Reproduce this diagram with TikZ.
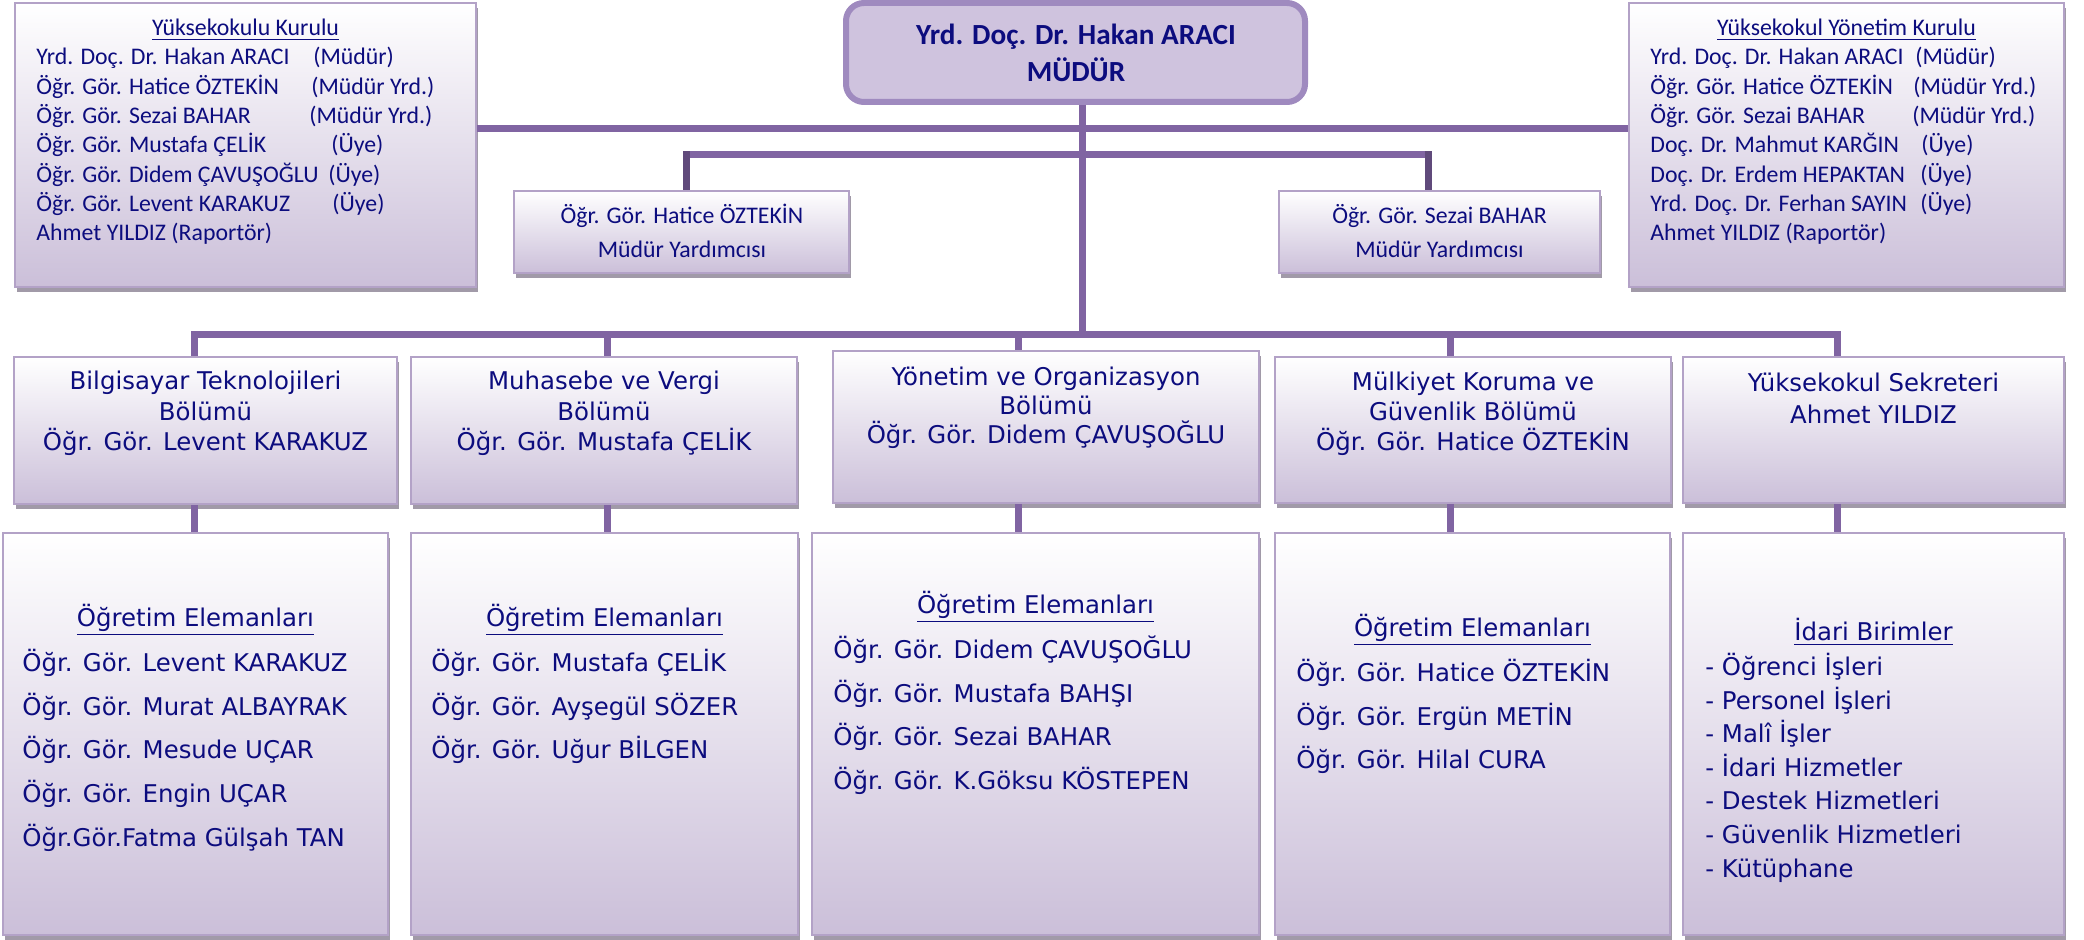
\documentclass[tikz,border=0pt]{standalone}
\usepackage{fontspec}
\usepackage{tikz}
\usetikzlibrary{fit,shadows}
\newfontfamily\calfont{Carlito}
\newfontfamily\verfont{DejaVu Sans}
\definecolor{LinkMain}{HTML}{8064A2}
\definecolor{LinkDark}{HTML}{604A7B}
\definecolor{BoxEdge}{HTML}{B3A2C7}
\definecolor{BoxLow}{HTML}{CBBFD9}
\definecolor{ShadowGrey}{HTML}{A19AA8}
\definecolor{ChiefFill}{HTML}{CFC3DE}
\definecolor{ChiefEdge}{HTML}{9F8ABF}
\definecolor{TextNavy}{HTML}{0C0C7E}
\tikzset{box/.style={draw=BoxEdge,line width=1.2pt,top color=white,bottom color=BoxLow,
 inner sep=0pt,drop shadow={shadow xshift=1.2pt,shadow yshift=-2.5pt,fill=ShadowGrey,opacity=1}},
 chief/.style={draw=ChiefEdge,line width=3pt,fill=ChiefFill,rounded corners=9pt,inner sep=0pt},
 link/.style={draw=LinkMain,line width=3.5pt},stub/.style={draw=LinkDark,line width=3.5pt},
 toptext/.style={inner sep=0pt,text=TextNavy,font=\calfont\fontsize{11.9}{14}\selectfont},
 lowtext/.style={inner sep=0pt,text=TextNavy,font=\verfont\fontsize{12.2}{14}\selectfont}}
\begin{document}
\begin{tikzpicture}[x=0.5pt,y=-0.5pt]
\useasboundingbox (0,0) rectangle (2084,940);
% boxes, given by their corners in pixels
\node[box,fit={(15,3)(476,287)}] (kurul) {};
\node[box,fit={(1629,3)(2064,287)}] (ykurul) {};
\node[chief,fit={(846,3)(1305,102)}] (dir) {};
\node[box,fit={(514,191)(849,273)}] (dep1) {};
\node[box,fit={(1279,191)(1600,273)}] (dep2) {};
\foreach \n/\a/\b/\c/\d in {d1/14/357/397/504,d2/411/357/797/504,d3/833/351/1259/503,
 d4/1275/357/1671/503,d5/1683/357/2064/503,s1/3/533/388/935,s2/411/533/798/935,
 s3/812/533/1259/935,s4/1275/533/1670/935,s5/1683/533/2064/935}
 \node[box,fit={(\a,\b)(\c,\d)}] (\n) {};
% connectors
\coordinate (hub) at (1082,335);
\coordinate (row1) at (0,129);
\coordinate (p1) at (686,155);
\coordinate (p2) at (1428,155);
\foreach \i/\x in {1/194,2/607,3/1018,4/1450,5/1837} \coordinate (c\i) at (\x,335);
\draw[link] (kurul.east |- row1) -- (ykurul.west |- row1);
\draw[link] (dir.south -| hub) -- (hub);
\draw[link] (p1) -- (p2);
\draw[stub] (dep1.north -| p1) -- ([yshift=1.75pt]p1);
\draw[stub] (dep2.north -| p2) -- ([yshift=1.75pt]p2);
\draw[link] (d1.north -| c1) |- (hub) -| (d5.north -| c5);
\foreach \i in {2,3,4} \draw[link] (c\i) -- (d\i.north -| c\i);
\foreach \i in {1,...,5} \draw[link] (d\i.south -| c\i) -- (s\i.north -| c\i);
% councils
\node[toptext,anchor=base] (kt) at (245.5,36) {\underline{Yüksekokulu Kurulu}};
\foreach \n/\r/\w [count=\i] in {Yrd. Doç. Dr. Hakan ARACI/(Müdür)/138.5,Öğr. Gör. Hatice ÖZTEKİN/(Müdür Yrd.)/137.5,
 Öğr. Gör. Sezai BAHAR/(Müdür Yrd.)/136.5,Öğr. Gör. Mustafa ÇELİK/(Üye)/147.5,
 Öğr. Gör. Didem ÇAVUŞOĞLU/(Üye)/146,Öğr. Gör. Levent KARAKUZ/(Üye)/148}
 \node[toptext,anchor=base west] (k\i) at (36,{65+29.3*(\i-1)}) {\makebox[\w pt][l]{\n}\r};
\node[toptext,anchor=base west] (k7) at (36,240.8) {Ahmet YILDIZ (Raportör)};
\node[toptext,anchor=base] (ykt) at (1846.5,36) {\underline{Yüksekokul Yönetim Kurulu}};
\foreach \n/\r/\w [count=\i] in {Yrd. Doç. Dr. Hakan ARACI/(Müdür)/132.5,Öğr. Gör. Hatice ÖZTEKİN/(Müdür Yrd.)/131.5,
 Öğr. Gör. Sezai BAHAR/(Müdür Yrd.)/131,Doç. Dr. Mahmut KARĞIN/(Üye)/135.5,
 Doç. Dr. Erdem HEPAKTAN/(Üye)/135,Yrd. Doç. Dr. Ferhan SAYIN/(Üye)/135}
 \node[toptext,anchor=base west] (y\i) at (1650,{65+29.3*(\i-1)}) {\makebox[\w pt][l]{\n}\r};
\node[toptext,anchor=base west] (y7) at (1650,240.8) {Ahmet YILDIZ (Raportör)};
% director and deputies
\node[toptext,font=\calfont\bfseries\fontsize{14.6}{18}\selectfont,anchor=base] (dn1) at (1076,45) {Yrd. Doç. Dr. Hakan ARACI};
\node[toptext,font=\calfont\bfseries\fontsize{14.6}{18}\selectfont,anchor=base] (dn2) at (1076,82) {MÜDÜR};
\node[toptext,anchor=base] (dp1a) at (682,224) {Öğr. Gör. Hatice ÖZTEKİN};
\node[toptext,anchor=base] (dp1b) at (682,258) {Müdür Yardımcısı};
\node[toptext,anchor=base] (dp2a) at (1439.5,224) {Öğr. Gör. Sezai BAHAR};
\node[toptext,anchor=base] (dp2b) at (1439.5,258) {Müdür Yardımcısı};
% departments
\foreach \n/\x/\y/\s/\list in {d1/205.5/390/30.5/{Bilgisayar Teknolojileri,Bölümü,Öğr. Gör. Levent KARAKUZ},
 d2/604/390/30.5/{Muhasebe ve Vergi,Bölümü,Öğr. Gör. Mustafa ÇELİK},
 d3/1046/386/29/{Yönetim ve Organizasyon,Bölümü,Öğr. Gör. Didem ÇAVUŞOĞLU},
 d4/1473/391/30/{Mülkiyet Koruma ve,Güvenlik Bölümü,Öğr. Gör. Hatice ÖZTEKİN},
 d5/1873.5/392/32/{Yüksekokul Sekreteri,Ahmet YILDIZ}}
 \foreach \t [count=\i] in \list \node[lowtext,anchor=base] (\n-\i) at (\x,{\y+\s*(\i-1)}) {\t};
% staff lists
\foreach \n/\x/\y in {s1/195.5/627,s2/604.5/627,s3/1035.5/614,s4/1472.5/637}
 \node[lowtext,anchor=base] (\n-h) at (\x,\y) {\underline{Öğretim Elemanları}};
\node[lowtext,anchor=base] (s5-h) at (1873.5,641) {\underline{İdari Birimler}};
\foreach \n/\x/\y/\s/\list in {s1/22/672/43.5/{Öğr. Gör. Levent KARAKUZ,Öğr. Gör. Murat ALBAYRAK,Öğr. Gör. Mesude UÇAR,Öğr. Gör. Engin UÇAR,Öğr.Gör.Fatma Gülşah TAN},
 s2/431/672/43.5/{Öğr. Gör. Mustafa ÇELİK,Öğr. Gör. Ayşegül SÖZER,Öğr. Gör. Uğur BİLGEN},
 s3/833/659/43.5/{Öğr. Gör. Didem ÇAVUŞOĞLU,Öğr. Gör. Mustafa BAHŞI,Öğr. Gör. Sezai BAHAR,Öğr. Gör. K.Göksu KÖSTEPEN},
 s4/1296/682/43.5/{Öğr. Gör. Hatice ÖZTEKİN,Öğr. Gör. Ergün METİN,Öğr. Gör. Hilal CURA},
 s5/1705/676/33.5/{- Öğrenci İşleri,- Personel İşleri,- Malî İşler,- İdari Hizmetler,- Destek Hizmetleri,- Güvenlik Hizmetleri,- Kütüphane}}
 \foreach \t [count=\i] in \list \node[lowtext,anchor=base west] (\n-\i) at (\x,{\y+\s*(\i-1)}) {\t};
\end{tikzpicture}
\end{document}
